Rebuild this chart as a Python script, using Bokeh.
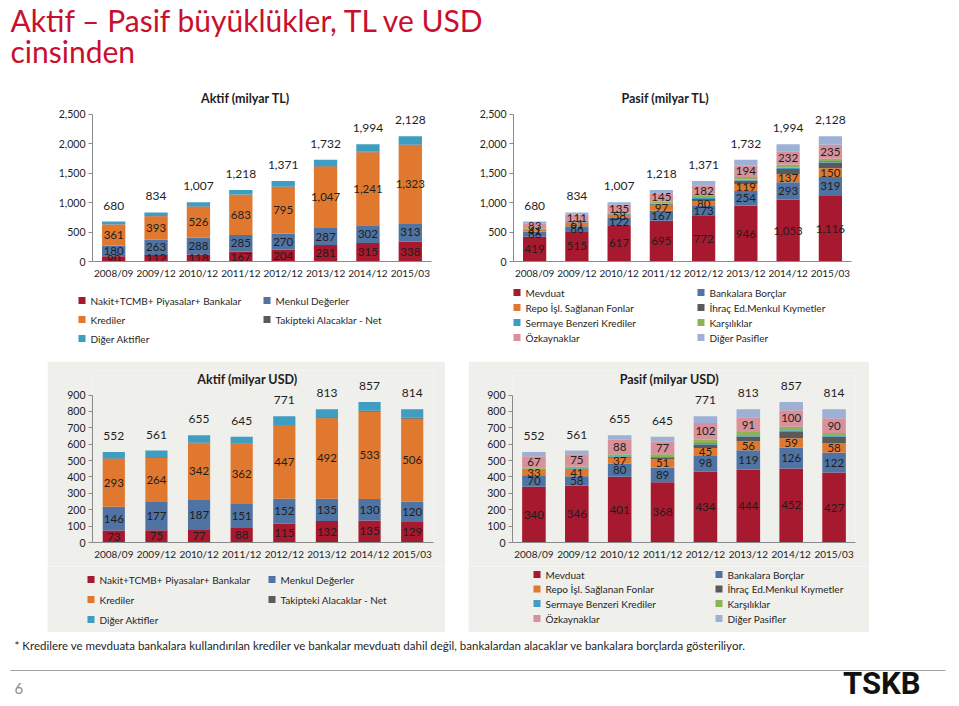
import numpy as np
from bokeh.plotting import figure
from bokeh.models import (ColumnDataSource, Label, FixedTicker, NumeralTickFormatter,
                          Range1d, FactorRange, BoxAnnotation, Spacer)
from bokeh.layouts import column, row
from bokeh.embed import file_html
from bokeh.resources import INLINE
from bokeh.core.properties import value

periods = ["2008/09", "2009/12", "2010/12", "2011/12", "2012/12", "2013/12", "2014/12", "2015/03"]

# ---------------- Aktif (milyar TL)
aktif_tl_nakit = [90, 112, 118, 167, 204, 281, 315, 338]
aktif_tl_menkul = [180, 263, 288, 285, 270, 287, 302, 313]
aktif_tl_krediler = [361, 393, 526, 683, 795, 1047, 1241, 1323]
aktif_tl_takipteki = [3, 6, 6, 6, 8, 10, 13, 15]
aktif_tl_diger = [46, 60, 69, 77, 94, 107, 123, 139]
aktif_tl_total = [680, 834, 1007, 1218, 1371, 1732, 1994, 2128]

# ---------------- Pasif (milyar TL)
pasif_tl_mevduat = [419, 515, 617, 695, 772, 946, 1053, 1116]
pasif_tl_bankalar = [86, 86, 122, 167, 173, 254, 293, 319]
pasif_tl_repo = [41, 61, 58, 97, 80, 119, 137, 150]
pasif_tl_ihrac = [2, 4, 6, 15, 39, 60, 89, 99]
pasif_tl_sermaye = [6, 7, 8, 11, 16, 17, 23, 26]
pasif_tl_karsilik = [12, 17, 18, 31, 36, 40, 50, 39]
pasif_tl_ozkaynak = [83, 111, 135, 145, 182, 194, 232, 235]
pasif_tl_diger = [31, 33, 43, 57, 73, 102, 117, 144]
pasif_tl_total = [680, 834, 1007, 1218, 1371, 1732, 1994, 2128]

# ---------------- Aktif (milyar USD)
aktif_usd_nakit = [73, 75, 77, 88, 115, 132, 135, 129]
aktif_usd_menkul = [146, 177, 187, 151, 152, 135, 130, 120]
aktif_usd_krediler = [293, 264, 342, 362, 447, 492, 533, 506]
aktif_usd_takipteki = [2, 4, 4, 3, 4, 5, 6, 6]
aktif_usd_diger = [38, 41, 45, 41, 53, 49, 53, 53]
aktif_usd_total = [552, 561, 655, 645, 771, 813, 857, 814]

# ---------------- Pasif (milyar USD)
pasif_usd_mevduat = [340, 346, 401, 368, 434, 444, 452, 427]
pasif_usd_bankalar = [70, 58, 80, 89, 98, 119, 126, 122]
pasif_usd_repo = [33, 41, 37, 51, 45, 56, 59, 58]
pasif_usd_ihrac = [2, 3, 4, 8, 22, 28, 38, 38]
pasif_usd_sermaye = [5, 5, 5, 6, 9, 8, 10, 10]
pasif_usd_karsilik = [10, 11, 12, 16, 20, 19, 22, 14]
pasif_usd_ozkaynak = [67, 75, 88, 77, 102, 91, 100, 90]
pasif_usd_diger = [25, 22, 28, 30, 41, 48, 50, 55]
pasif_usd_total = [552, 561, 655, 645, 771, 813, 857, 814]

aktif_names = ["Nakit+TCMB+ Piyasalar+ Bankalar", "Menkul Değerler", "Krediler",
               "Takipteki Alacaklar - Net", "Diğer Aktifler"]
pasif_names = ["Mevduat", "Bankalara Borçlar", "Repo İşl. Sağlanan Fonlar",
               "İhraç Ed.Menkul Kıymetler", "Sermaye Benzeri Krediler", "Karşılıklar",
               "Özkaynaklar", "Diğer Pasifler"]

tl_ticks = [0, 500, 1000, 1500, 2000, 2500]
usd_ticks = [0, 100, 200, 300, 400, 500, 600, 700, 800, 900]

aktif_colors = ["#A6192E", "#4F73A3", "#E0792F", "#5A5A5A", "#3E9DC0"]
pasif_colors = ["#A6192E", "#4F73A3", "#E0792F", "#5A5A5A", "#3E9DC0", "#8DB356",
                "#D8919A", "#9DB1D6"]
aktif_labeled = [True, True, True, False, False]
pasif_labeled = [True, True, True, False, False, False, True, False]

FONT = "Lato"
TXT = "#1e1e1e"
WHITE = "#FFFFFF"
BG2 = "#EFEFEB"


def make_chart(title, series, colors, labeled, totals, ticks, y_end, width, height,
               mb_left, mb_right, mb_top, mb_bottom, bar_width, title_xy, bg):
    p = figure(x_range=FactorRange(*periods), y_range=Range1d(0, y_end),
               width=width, height=height, toolbar_location=None, output_backend="svg",
               min_border_left=mb_left, min_border_right=mb_right,
               min_border_top=mb_top, min_border_bottom=mb_bottom, frame_align=False)
    p.background_fill_color = bg
    p.border_fill_color = bg
    p.outline_line_color = None
    p.xgrid.visible = False
    p.ygrid.visible = False

    data = {"period": periods}
    keys = []
    for i, s in enumerate(series):
        k = "s%d" % i
        data[k] = s
        keys.append(k)
    src = ColumnDataSource(data)
    p.vbar_stack(keys, x="period", width=bar_width, color=colors, source=src,
                 line_color=None)

    # segment labels
    arr = np.array(series, dtype=float)
    cum = np.cumsum(arr, axis=0)
    lx, ly, lt = [], [], []
    for i, lab in enumerate(labeled):
        if not lab:
            continue
        for j, per in enumerate(periods):
            v = series[i][j]
            lx.append(per)
            ly.append(cum[i][j] - v / 2.0)
            lt.append(f"{v:,}")
    p.text(x=lx, y=ly, text=lt, text_align="center", text_baseline="middle",
           text_font=value(FONT), text_font_size="11.5px", text_color=TXT)
    # totals
    p.text(x=periods, y=totals, text=[f"{t:,}" for t in totals], text_align="center",
           text_baseline="middle", y_offset=-16, text_font=value(FONT),
           text_font_size="12px", text_color=TXT)

    # axes
    p.yaxis.ticker = FixedTicker(ticks=ticks)
    p.yaxis.formatter = NumeralTickFormatter(format="0,0")
    p.yaxis.bounds = (ticks[0], ticks[-1])
    for ax in (p.xaxis[0], p.yaxis[0]):
        ax.axis_line_color = "#8A8A8A"
        ax.major_tick_line_color = "#8A8A8A"
        ax.minor_tick_line_color = None
        ax.major_label_text_font = FONT
        ax.major_label_text_color = TXT
    p.xaxis.major_label_text_font_size = "10px"
    p.yaxis.major_label_text_font_size = "10.5px"
    p.yaxis.major_tick_out = 4
    p.yaxis.major_tick_in = 0
    p.yaxis.major_label_standoff = 3
    p.xaxis.major_tick_out = 0
    p.xaxis.major_tick_in = 0
    p.xaxis.major_label_standoff = 5

    # title
    p.add_layout(Label(x=title_xy[0], y=title_xy[1], x_units="screen", y_units="screen",
                       text=title, text_align="center", text_baseline="middle",
                       text_font=FONT, text_font_style="bold", text_font_size="12.5px",
                       text_color=TXT))
    return p


def blank(w, h, bg=WHITE):
    f = figure(width=w, height=h, x_range=Range1d(0, w), y_range=Range1d(0, h),
               toolbar_location=None, output_backend="svg", min_border=0,
               frame_align=False)
    f.axis.visible = False
    f.grid.visible = False
    f.outline_line_color = None
    f.background_fill_color = bg
    f.border_fill_color = bg
    return f


def make_legend(names, colors, width, height, fig_x, fig_y, col_x, rows_y, bg):
    """Two-column legend (row-major order) drawn in its own pixel-mapped figure."""
    f = blank(width, height, bg)
    sx, sy = [], []
    for k in range(len(names)):
        r, c = divmod(k, 2)
        sx.append(col_x[c] - fig_x)
        sy.append(height - (rows_y[r] - fig_y))
    f.rect(x=[x + 3.5 for x in sx], y=sy, width=7, height=7, fill_color=colors,
           line_color=None)
    f.text(x=[x + 12 for x in sx], y=sy, text=names, text_baseline="middle",
           text_align="left", text_font=value(FONT), text_font_size="10px",
           text_color="#262626")
    return f


p_tl_a = make_chart("Aktif (milyar TL)",
                    [aktif_tl_nakit, aktif_tl_menkul, aktif_tl_krediler, aktif_tl_takipteki,
                     aktif_tl_diger], aktif_colors, aktif_labeled, aktif_tl_total, tl_ticks,
                    2874, 462, 200, 84, 39, 7, 24, 0.55, (153, 163), WHITE)
l_tl_a = make_legend(aktif_names, aktif_colors, 462, 70, 8, 285, (78, 263),
                     (300, 319, 338), WHITE)

p_tl_p = make_chart("Pasif (milyar TL)",
                    [pasif_tl_mevduat, pasif_tl_bankalar, pasif_tl_repo, pasif_tl_ihrac,
                     pasif_tl_sermaye, pasif_tl_karsilik, pasif_tl_ozkaynak, pasif_tl_diger],
                    pasif_colors, pasif_labeled, pasif_tl_total, tl_ticks,
                    2874, 481, 200, 43, 100, 7, 24, 0.55, (152, 163), WHITE)
l_tl_p = make_legend(pasif_names, pasif_colors, 481, 70, 470, 285, (513, 697),
                     (292, 307, 322, 337), WHITE)

p_usd_a = make_chart("Aktif (milyar USD)",
                     [aktif_usd_nakit, aktif_usd_menkul, aktif_usd_krediler,
                      aktif_usd_takipteki, aktif_usd_diger], aktif_colors, aktif_labeled,
                     aktif_usd_total, usd_ticks, 1050, 398, 205, 45, 12, 9, 24, 0.52,
                     (155, 163), BG2)
l_usd_a = make_legend(aktif_names, aktif_colors, 398, 66, 47, 566, (87, 268),
                      (579, 599, 619), BG2)

p_usd_p = make_chart("Pasif (milyar USD)",
                     [pasif_usd_mevduat, pasif_usd_bankalar, pasif_usd_repo, pasif_usd_ihrac,
                      pasif_usd_sermaye, pasif_usd_karsilik, pasif_usd_ozkaynak,
                      pasif_usd_diger], pasif_colors, pasif_labeled, pasif_usd_total,
                     usd_ticks, 1050, 401, 205, 44, 14, 9, 24, 0.55, (157, 163), BG2)
l_usd_p = make_legend(pasif_names, pasif_colors, 401, 66, 468, 566, (533, 715),
                      (574, 588.5, 603, 618), BG2)

head = blank(943, 85)
head.add_layout(Label(x=2, y=66, text="Aktif – Pasif büyüklükler, TL ve USD",
                      text_font=FONT, text_font_size="30px", text_color="#C8102E",
                      text_baseline="middle"))
head.add_layout(Label(x=2, y=35, text="cinsinden", text_font=FONT, text_font_size="30px",
                      text_color="#C8102E", text_baseline="middle"))

foot = blank(943, 66)
foot.add_layout(Label(x=6, y=53, text="* Kredilere ve mevduata bankalara kullandırılan krediler ve bankalar mevduatı dahil değil, bankalardan alacaklar ve bankalara borçlarda gösteriliyor.",
                      text_font=FONT, text_font_size="11.5px", text_color=TXT,
                      text_baseline="middle"))
foot.add_layout(BoxAnnotation(left=2, right=937, bottom=27.5, top=28.5,
                              fill_color="#A0A0A0", fill_alpha=1, line_color=None))
foot.add_layout(Label(x=6, y=10, text="6", text_font=FONT, text_font_size="15px",
                      text_color="#8C8C8C", text_baseline="middle"))
foot.add_layout(Label(x=912, y=15, text="TSKB", text_font="Roboto",
                      text_font_style="bold", text_font_size="31px",
                      text_color="#111111", text_align="right", text_baseline="middle"))

content = column(head,
                 row(column(p_tl_a, l_tl_a), column(p_tl_p, l_tl_p)),
                 Spacer(width=943, height=6),
                 row(Spacer(width=39, height=271), column(p_usd_a, l_usd_a),
                     Spacer(width=23, height=271), column(p_usd_p, l_usd_p)),
                 foot)
layout = row(Spacer(width=8, height=698), content)

open("out.html", "w").write(file_html(layout, INLINE))
